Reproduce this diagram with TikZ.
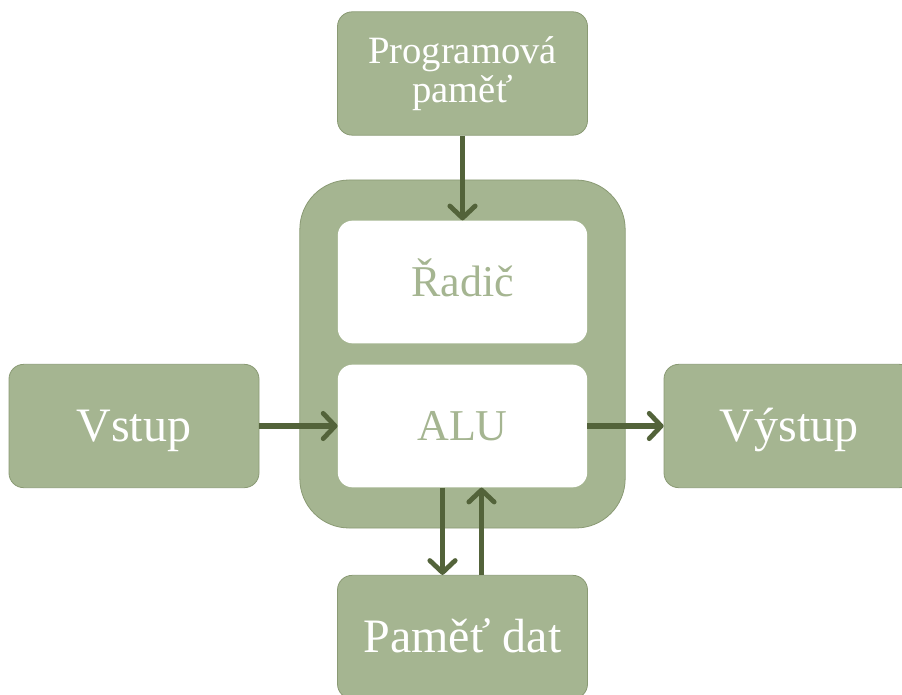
\documentclass[tikz,border=0pt]{standalone}
\usepackage{fontspec}
\setmainfont{Liberation Serif}
\usetikzlibrary{arrows.meta, calc}
\definecolor{boxgreen}{RGB}{165,181,145}
\definecolor{edgegreen}{RGB}{138,154,116}
\definecolor{arrowgreen}{RGB}{83,99,58}

\begin{document}
\begin{tikzpicture}[x=0.75pt, y=-0.75pt,
  block/.style={draw=edgegreen, line width=0.6pt, fill=boxgreen, rounded corners=11pt,
    minimum width=187.5pt, minimum height=92.5pt, inner sep=0pt, text=white, align=center},
  unit/.style={fill=white, rounded corners=11pt, minimum width=187pt, minimum height=92pt,
    inner sep=0pt, text=boxgreen, font=\fontsize{33}{36}\selectfont,
    text height=21.8pt, text depth=0pt},
  big/.style={font=\fontsize{36}{40}\selectfont, text height=23.8pt, text depth=0pt},
  flow/.style={arrowgreen, line width=4.2pt,
    -{Straight Barb[round, length=9pt, width=19pt, line width=3.6pt]}}]
  \clip (0,0) rectangle (902,695);
  % processor frame
  \node[draw=edgegreen, line width=0.6pt, fill=boxgreen, rounded corners=37pt,
    minimum width=244pt, minimum height=261pt] (cpu) at (462.5,354) {};
  \node[unit] (radic) at (462.5,282) {Řadič};
  \node[unit] (alu) at (462.5,426) {ALU};
  % memories and I/O
  \node[block, font=\fontsize{29}{29}\selectfont] (prog) at (462.5,73.5) {Programová\\paměť};
  \node[block, big] (vstup) at (134,426) {Vstup};
  \node[block, big] (vystup) at (789,426) {Výstup};
  \node[block, big] (pamet) at (462.5,637) {Paměť dat};
  % data paths
  \draw[flow] (prog) -- (radic);
  \draw[flow] (vstup) -- (alu);
  \draw[flow] (alu) -- (vystup);
  \draw[flow] ($(alu.south)+(-20,0)$) -- ($(pamet.north)+(-20,0)$);
  \draw[flow] ($(pamet.north)+(19,0)$) -- ($(alu.south)+(19,0)$);
\end{tikzpicture}
\end{document}
